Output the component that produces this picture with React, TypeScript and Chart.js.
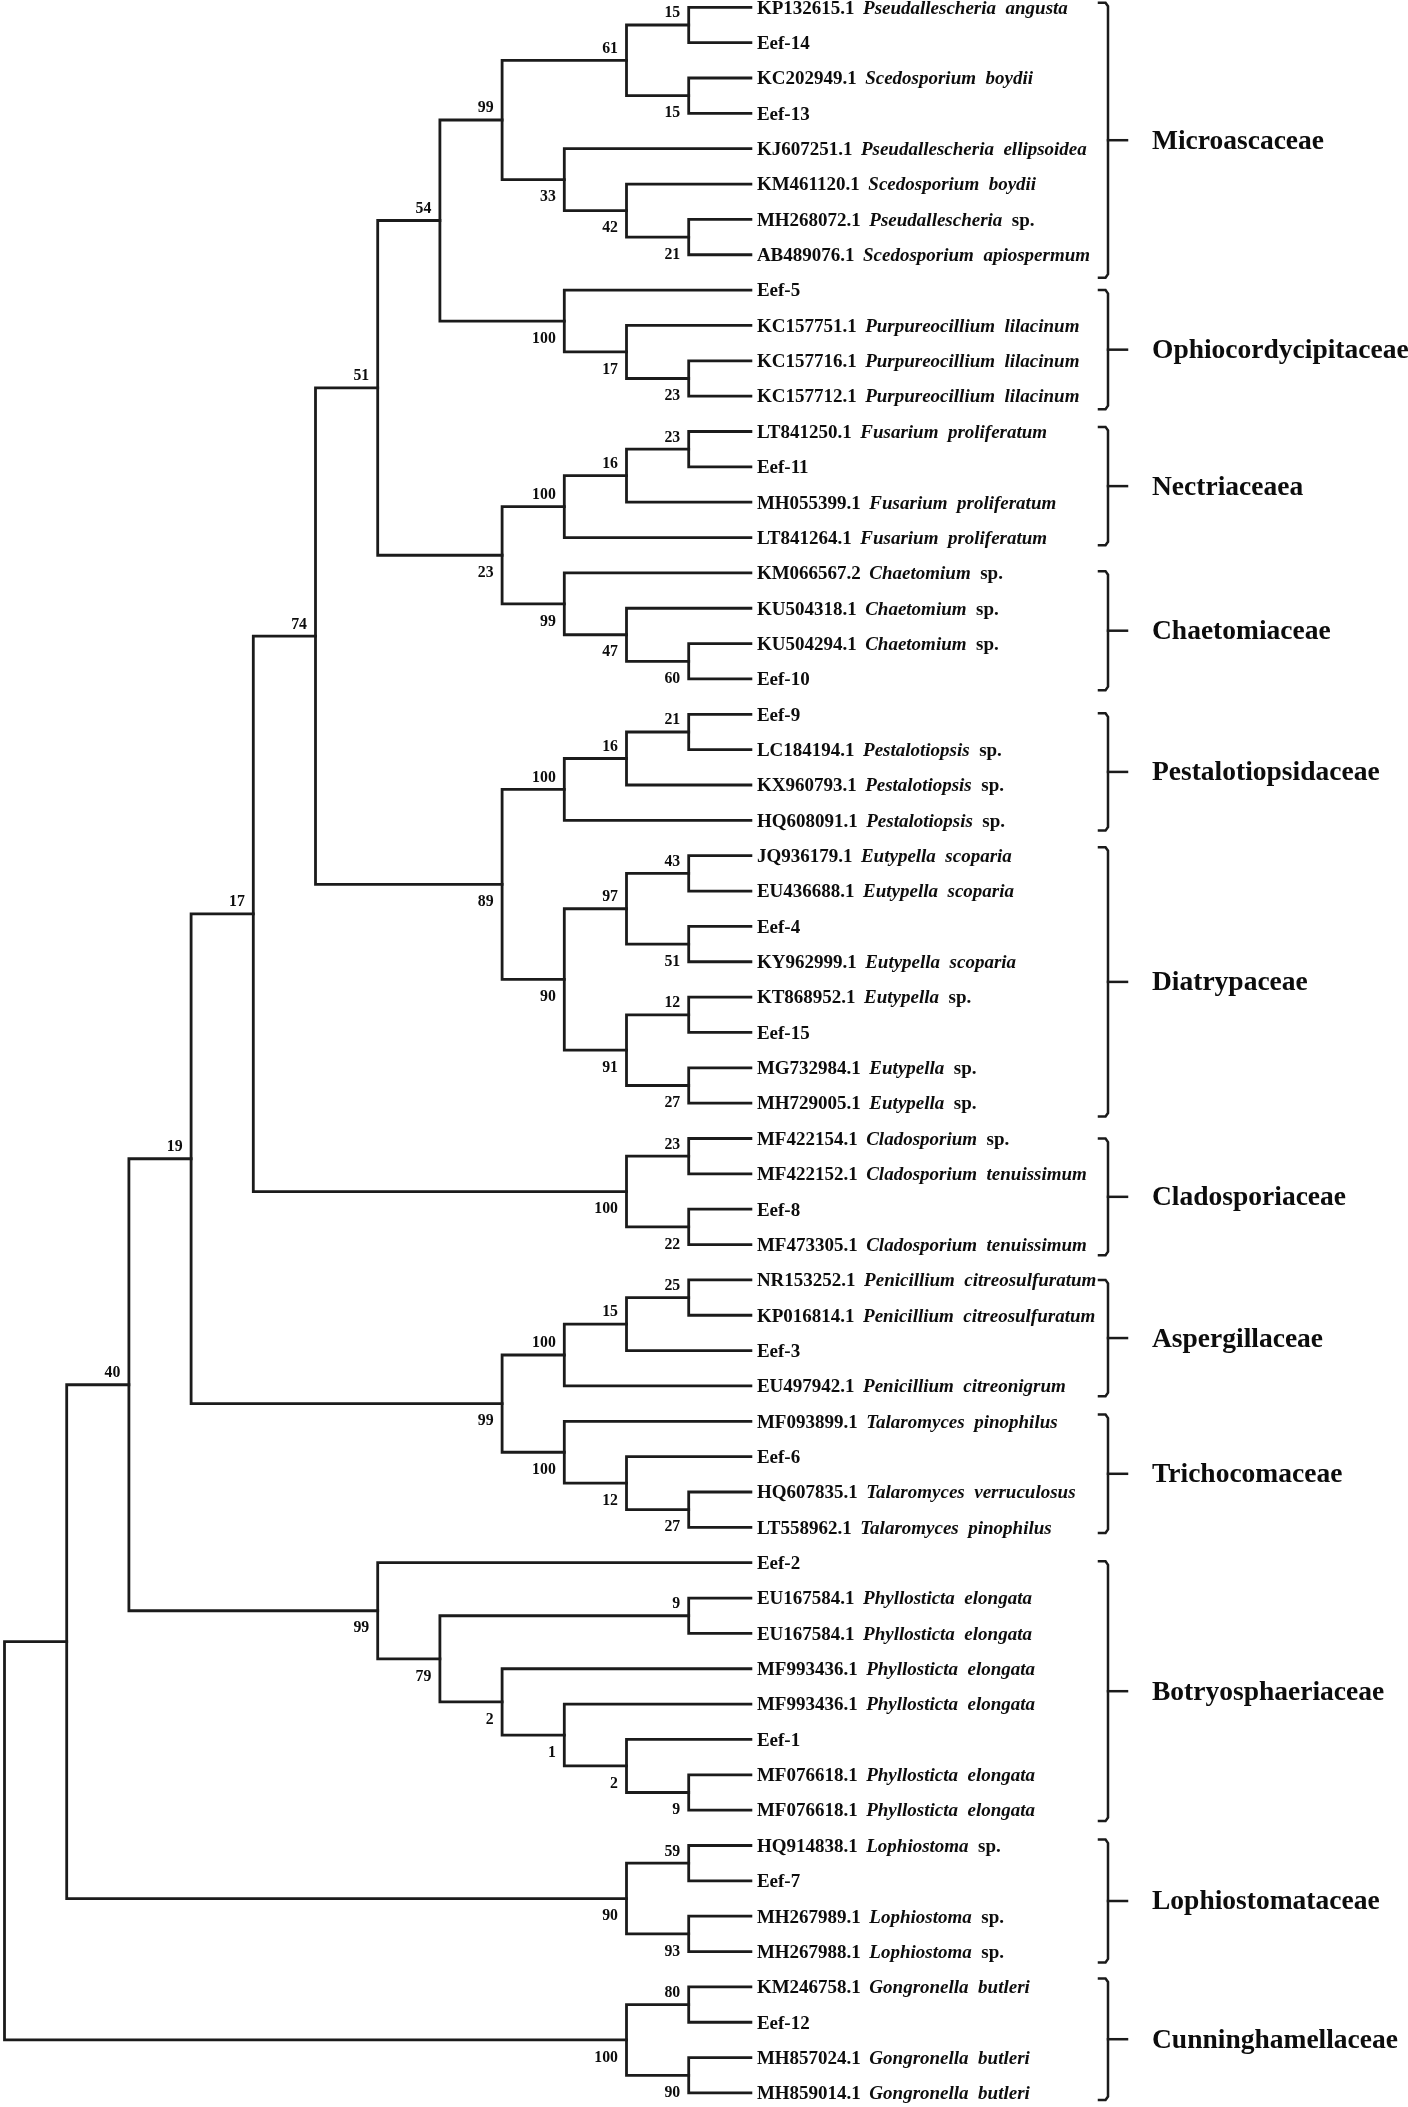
import React, { useEffect, useRef } from 'react';
import { Chart, registerables } from 'chart.js';

Chart.register(...registerables);

// ---------------- data ----------------
const leafAccessions = [
  'KP132615.1', 'Eef-14', 'KC202949.1', 'Eef-13', 'KJ607251.1', 'KM461120.1', 'MH268072.1', 'AB489076.1',
  'Eef-5', 'KC157751.1', 'KC157716.1', 'KC157712.1',
  'LT841250.1', 'Eef-11', 'MH055399.1', 'LT841264.1',
  'KM066567.2', 'KU504318.1', 'KU504294.1', 'Eef-10',
  'Eef-9', 'LC184194.1', 'KX960793.1', 'HQ608091.1',
  'JQ936179.1', 'EU436688.1', 'Eef-4', 'KY962999.1', 'KT868952.1', 'Eef-15', 'MG732984.1', 'MH729005.1',
  'MF422154.1', 'MF422152.1', 'Eef-8', 'MF473305.1',
  'NR153252.1', 'KP016814.1', 'Eef-3', 'EU497942.1',
  'MF093899.1', 'Eef-6', 'HQ607835.1', 'LT558962.1',
  'Eef-2', 'EU167584.1', 'EU167584.1', 'MF993436.1', 'MF993436.1', 'Eef-1', 'MF076618.1', 'MF076618.1',
  'HQ914838.1', 'Eef-7', 'MH267989.1', 'MH267988.1',
  'KM246758.1', 'Eef-12', 'MH857024.1', 'MH859014.1',
];

const leafGenera = [
  'Pseudallescheria', '', 'Scedosporium', '', 'Pseudallescheria', 'Scedosporium', 'Pseudallescheria', 'Scedosporium',
  '', 'Purpureocillium', 'Purpureocillium', 'Purpureocillium',
  'Fusarium', '', 'Fusarium', 'Fusarium',
  'Chaetomium', 'Chaetomium', 'Chaetomium', '',
  '', 'Pestalotiopsis', 'Pestalotiopsis', 'Pestalotiopsis',
  'Eutypella', 'Eutypella', '', 'Eutypella', 'Eutypella', '', 'Eutypella', 'Eutypella',
  'Cladosporium', 'Cladosporium', '', 'Cladosporium',
  'Penicillium', 'Penicillium', '', 'Penicillium',
  'Talaromyces', '', 'Talaromyces', 'Talaromyces',
  '', 'Phyllosticta', 'Phyllosticta', 'Phyllosticta', 'Phyllosticta', '', 'Phyllosticta', 'Phyllosticta',
  'Lophiostoma', '', 'Lophiostoma', 'Lophiostoma',
  'Gongronella', '', 'Gongronella', 'Gongronella',
];

const leafEpithets = [
  'angusta', '', 'boydii', '', 'ellipsoidea', 'boydii', 'sp.', 'apiospermum',
  '', 'lilacinum', 'lilacinum', 'lilacinum',
  'proliferatum', '', 'proliferatum', 'proliferatum',
  'sp.', 'sp.', 'sp.', '',
  '', 'sp.', 'sp.', 'sp.',
  'scoparia', 'scoparia', '', 'scoparia', 'sp.', '', 'sp.', 'sp.',
  'sp.', 'tenuissimum', '', 'tenuissimum',
  'citreosulfuratum', 'citreosulfuratum', '', 'citreonigrum',
  'pinophilus', '', 'verruculosus', 'pinophilus',
  '', 'elongata', 'elongata', 'elongata', 'elongata', '', 'elongata', 'elongata',
  'sp.', '', 'sp.', 'sp.',
  'butleri', '', 'butleri', 'butleri',
];

const familyNames = [
  'Microascaceae', 'Ophiocordycipitaceae', 'Nectriaceaea', 'Chaetomiaceae', 'Pestalotiopsidaceae', 'Diatrypaceae',
  'Cladosporiaceae', 'Aspergillaceae', 'Trichocomaceae', 'Botryosphaeriaceae', 'Lophiostomataceae', 'Cunninghamellaceae',
];
// bracket extents, in leaf-row units
const familyBracketTop = [0.87, 9.0, 12.87, 16.95, 20.97, 24.76, 33.0, 37.0, 40.81, 44.96, 52.83, 56.76];
const familyBracketBottom = [8.65, 12.37, 16.22, 20.32, 24.29, 32.38, 36.3, 40.29, 44.16, 52.31, 56.31, 60.2];

// tree: [bootstrap, depth level, child1, child2]; a number child = leaf index (1-based)
type TNode = [string | null, number, TNode | number, TNode | number];

const microascaceae: TNode = ['99', 8,
  ['61', 10, ['15', 11, 1, 2], ['15', 11, 3, 4]],
  ['33', 9, 5, ['42', 10, 6, ['21', 11, 7, 8]]]];
const ophiocordycipitaceae: TNode = ['100', 9, 9, ['17', 10, 10, ['23', 11, 11, 12]]];
const nectriaceae: TNode = ['100', 9, ['16', 10, ['23', 11, 13, 14], 15], 16];
const chaetomiaceae: TNode = ['99', 9, 17, ['47', 10, 18, ['60', 11, 19, 20]]];
const pestalotiopsidaceae: TNode = ['100', 9, ['16', 10, ['21', 11, 21, 22], 23], 24];
const diatrypaceae: TNode = ['90', 9,
  ['97', 10, ['43', 11, 25, 26], ['51', 11, 27, 28]],
  ['91', 10, ['12', 11, 29, 30], ['27', 11, 31, 32]]];
const cladosporiaceae: TNode = ['100', 10, ['23', 11, 33, 34], ['22', 11, 35, 36]];
const aspergillaceae: TNode = ['100', 9, ['15', 10, ['25', 11, 37, 38], 39], 40];
const trichocomaceae: TNode = ['100', 9, 41, ['12', 10, 42, ['27', 11, 43, 44]]];
const botryosphaeriaceae: TNode = ['99', 6, 45,
  ['79', 7, ['9', 11, 46, 47], ['2', 8, 48, ['1', 9, 49, ['2', 10, 50, ['9', 11, 51, 52]]]]]];
const lophiostomataceae: TNode = ['90', 10, ['59', 11, 53, 54], ['93', 11, 55, 56]];
const cunninghamellaceae: TNode = ['100', 10, ['80', 11, 57, 58], ['90', 11, 59, 60]];

const tree: TNode = [null, 0,
  [null, 1,
    ['40', 2,
      ['19', 3,
        ['17', 4,
          ['74', 5,
            ['51', 6,
              ['54', 7, microascaceae, ophiocordycipitaceae],
              ['23', 8, nectriaceae, chaetomiaceae]],
            ['89', 8, pestalotiopsidaceae, diatrypaceae]],
          cladosporiaceae],
        ['99', 8, aspergillaceae, trichocomaceae]],
      botryosphaeriaceae],
    lophiostomataceae],
  cunninghamellaceae];

// ---------------- layout constants ----------------
const W = 1408;
const H = 2107;
const LEAF_LEVEL = 12;
const LEVEL_PX = 62.2;
const X0_PX = 4.5;
const LEAF_PX = 35.35;
const Y0_PX = 7.3;
const X_MIN = -X0_PX / LEVEL_PX;
const X_MAX = X_MIN + W / LEVEL_PX;
const Y_MIN = 1 - Y0_PX / LEAF_PX;
const Y_MAX = Y_MIN + H / LEAF_PX;
const lvl = (px: number) => (px - X0_PX) / LEVEL_PX;

const LINE = '#1b1b1b';
const TEXT = '#0d0d0d';
const SERIF = '"Liberation Serif", "Times New Roman", serif';

function yOf(c: TNode | number): number {
  return typeof c === 'number' ? c : (yOf(c[2]) + yOf(c[3])) / 2;
}
function xOf(c: TNode | number): number {
  return typeof c === 'number' ? LEAF_LEVEL : c[1];
}

type Lab = { text: string; level: number; y: number; above: boolean };

function collect(n: TNode, segs: { x: number; y: number }[][], labs: Lab[], above: boolean, isRoot: boolean) {
  const [bs, lv, c1, c2] = n;
  segs.push([
    { x: xOf(c1), y: yOf(c1) },
    { x: lv, y: yOf(c1) },
    { x: lv, y: yOf(c2) },
    { x: xOf(c2), y: yOf(c2) },
  ]);
  if (bs && !isRoot) labs.push({ text: bs, level: lv, y: yOf(n), above });
  if (typeof c1 !== 'number') collect(c1, segs, labs, true, false);
  if (typeof c2 !== 'number') collect(c2, segs, labs, false, false);
}

export default function App() {
  const ref = useRef<HTMLCanvasElement | null>(null);

  useEffect(() => {
    if (!ref.current) return;
    const segs: { x: number; y: number }[][] = [];
    const labs: Lab[] = [];
    collect(tree, segs, labs, true, true);

    const bx = lvl(1108);
    const hookX = lvl(1099);
    const tickX = lvl(1127);
    const bracketSets = familyNames.map((_, i) => {
      const top = familyBracketTop[i];
      const bot = familyBracketBottom[i];
      return [
        { x: hookX, y: top },
        { x: bx - 0.04, y: top },
        { x: bx, y: top + 0.1 },
        { x: bx, y: bot - 0.1 },
        { x: bx - 0.04, y: bot },
        { x: hookX, y: bot },
      ];
    });
    const mids = familyNames.map((_, i) => (familyBracketTop[i] + familyBracketBottom[i]) / 2);
    const tickSets = mids.map((mid) => [{ x: bx, y: mid }, { x: tickX, y: mid }]);

    const mk = (data: { x: number; y: number }[], w: number) => ({
      data,
      showLine: true,
      borderColor: LINE,
      backgroundColor: LINE,
      borderWidth: w,
      pointRadius: 0,
      pointHoverRadius: 0,
      tension: 0,
      borderJoinStyle: 'miter' as const,
      borderCapStyle: 'square' as const,
      clip: false as any,
    });

    const textPlugin = {
      id: 'treeText',
      afterDatasetsDraw(chart: any) {
        const ctx = chart.ctx as CanvasRenderingContext2D;
        const xs = chart.scales.x;
        const ys = chart.scales.y;
        ctx.save();
        ctx.fillStyle = TEXT;
        ctx.textBaseline = 'alphabetic';

        // bootstrap values
        ctx.font = `bold 15.8px ${SERIF}`;
        ctx.textAlign = 'right';
        labs.forEach((l) => {
          const x = xs.getPixelForValue(l.level) - 8.5;
          const y = ys.getPixelForValue(l.y) + (l.above ? -7.6 : 21.7);
          ctx.fillText(l.text, x, y);
        });

        // leaf labels
        ctx.textAlign = 'left';
        const BOLD = `bold 19px ${SERIF}`;
        const ITAL = `italic bold 19px ${SERIF}`;
        const tx = xs.getPixelForValue(LEAF_LEVEL) + 6;
        leafAccessions.forEach((acc, i) => {
          const y = ys.getPixelForValue(i + 1) + 6.3;
          ctx.font = BOLD;
          ctx.fillText(acc, tx, y);
          const g = leafGenera[i];
          if (!g) return;
          let x = tx + ctx.measureText(acc).width + 8.5;
          ctx.font = ITAL;
          ctx.fillText(g, x, y);
          x += ctx.measureText(g).width + 9.5;
          const e = leafEpithets[i];
          ctx.font = e === 'sp.' ? BOLD : ITAL;
          ctx.fillText(e, x, y);
        });

        // family names
        ctx.font = `bold 27.5px ${SERIF}`;
        familyNames.forEach((f, i) => {
          ctx.fillText(f, 1152, ys.getPixelForValue(mids[i]) + 8.5);
        });
        ctx.restore();
      },
    };

    const chart = new Chart(ref.current, {
      type: 'scatter',
      data: {
        datasets: [
          ...segs.map((s) => mk(s, 2.8)),
          ...bracketSets.map((s) => mk(s, 2.5)),
          ...tickSets.map((s) => mk(s, 2.5)),
        ] as any,
      },
      options: {
        animation: false,
        responsive: true,
        maintainAspectRatio: false,
        layout: { padding: 0 },
        events: [],
        plugins: { legend: { display: false }, tooltip: { enabled: false } },
        scales: {
          x: { type: 'linear', min: X_MIN, max: X_MAX, display: false },
          y: { type: 'linear', min: Y_MIN, max: Y_MAX, reverse: true, display: false },
        },
      },
      plugins: [textPlugin],
    });
    return () => chart.destroy();
  }, []);

  return (
    <div style={{ position: 'absolute', left: 0, top: 0, width: W, height: H, background: '#fff' }}>
      <canvas ref={ref} />
    </div>
  );
}
